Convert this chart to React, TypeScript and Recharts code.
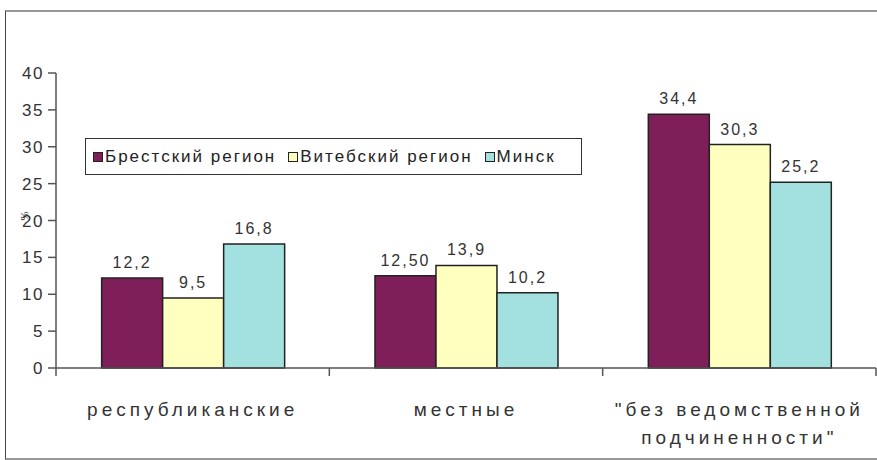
import { BarChart, Bar, XAxis, YAxis, Legend, LabelList } from 'recharts'

const categories = ['республиканские', 'местные', '"без ведомственной\nподчиненности"']
const brest = [12.2, 12.5, 34.4]
const vitebsk = [9.5, 13.9, 30.3]
const minsk = [16.8, 10.2, 25.2]
const brestLabels = ['12,2', '12,50', '34,4']
const vitebskLabels = ['9,5', '13,9', '30,3']
const minskLabels = ['16,8', '10,2', '25,2']
const yTicks = [0, 5, 10, 15, 20, 25, 30, 35, 40]

const data = categories.map((name, i) => ({
  name,
  brest: brest[i],
  vitebsk: vitebsk[i],
  minsk: minsk[i],
  brestLabel: brestLabels[i],
  vitebskLabel: vitebskLabels[i],
  minskLabel: minskLabels[i],
}))

const FONT = '"Liberation Sans", Arial, sans-serif'
const AXIS = '#555'
const TEXT = '#333'

function CategoryTick(props: any) {
  const { x, y, payload, index, width, visibleTicksCount } = props
  const band = width / visibleTicksCount
  const lines = String(payload.value).split('\n')
  const last = index === visibleTicksCount - 1
  return (
    <g>
      <line x1={x - band / 2} x2={x - band / 2} y1={y} y2={y + 8} stroke={AXIS} strokeWidth={1.5} />
      {last && <line x1={x + band / 2} x2={x + band / 2} y1={y} y2={y + 8} stroke={AXIS} strokeWidth={1.5} />}
      <text x={x} y={y + 48} textAnchor="middle" fill={TEXT} fontSize={19} fontFamily={FONT} letterSpacing={4}>
        {lines.map((line, i) => (
          <tspan key={i} x={x} dy={i === 0 ? 0 : 28}>
            {line}
          </tspan>
        ))}
      </text>
    </g>
  )
}

function BoxLegend({ payload }: any) {
  return (
    <div
      style={{
        boxSizing: 'border-box',
        height: '100%',
        border: '1.5px solid #333',
        display: 'flex',
        alignItems: 'center',
        paddingLeft: 7,
        fontFamily: FONT,
        fontSize: 17,
        letterSpacing: 2,
        color: '#222',
      }}
    >
      {(payload || []).map((item: any) => (
        <span key={item.value} style={{ display: 'flex', alignItems: 'center', marginRight: 12 }}>
          <span
            style={{
              display: 'inline-block',
              width: 8,
              height: 8,
              background: item.color,
              border: '1px solid #222',
              marginRight: 2,
            }}
          />
          {item.value}
        </span>
      ))}
    </div>
  )
}

export default function App() {
  return (
    <div style={{ position: 'absolute', left: 0, top: 0, width: 877, height: 460, overflow: 'hidden', background: '#fff' }}>
      <div
        style={{
          position: 'absolute',
          left: 5,
          top: 10,
          width: 900,
          height: 446,
          borderLeft: '1.5px solid #444',
          borderTop: '2px solid #999',
          borderBottom: '2px solid #999',
        }}
      />
      <BarChart
        width={877}
        height={460}
        data={data}
        margin={{ top: 73, right: 1, bottom: 32, left: 0 }}
        barCategoryGap="16.7%"
        barGap={0}
        style={{ position: 'absolute', left: 0, top: 0 }}
      >
        <XAxis
          dataKey="name"
          height={60}
          stroke={AXIS}
          strokeWidth={1.5}
          tickLine={false}
          tickSize={0}
          tickMargin={0}
          interval={0}
          tick={<CategoryTick />}
        />
        <YAxis
          width={56}
          domain={[0, 40]}
          ticks={yTicks}
          interval={0}
          stroke={AXIS}
          strokeWidth={1.5}
          tickSize={8}
          tickMargin={4}
          tick={{ fill: TEXT, fontSize: 17, fontFamily: FONT, letterSpacing: 1.5 }}
          label={{ value: '%', angle: -90, position: 'insideLeft', offset: 24, fontSize: 11, fill: '#222' }}
        />
        <Legend
          layout="vertical"
          align="center"
          verticalAlign="middle"
          content={<BoxLegend />}
          wrapperStyle={{ left: 85, top: 138, width: 497, height: 37 }}
        />
        <Bar dataKey="brest" name="Брестский регион" fill="#7F1F5A" stroke="#222" strokeWidth={1.5} isAnimationActive={false}>
          <LabelList dataKey="brestLabel" position="top" offset={10} fill={TEXT} fontSize={16} fontFamily={FONT} letterSpacing={2} />
        </Bar>
        <Bar dataKey="vitebsk" name="Витебский регион" fill="#FFFFC0" stroke="#222" strokeWidth={1.5} isAnimationActive={false}>
          <LabelList dataKey="vitebskLabel" position="top" offset={10} fill={TEXT} fontSize={16} fontFamily={FONT} letterSpacing={2} />
        </Bar>
        <Bar dataKey="minsk" name="Минск" fill="#A3E0E0" stroke="#222" strokeWidth={1.5} isAnimationActive={false}>
          <LabelList dataKey="minskLabel" position="top" offset={10} fill={TEXT} fontSize={16} fontFamily={FONT} letterSpacing={2} />
        </Bar>
      </BarChart>
    </div>
  )
}
